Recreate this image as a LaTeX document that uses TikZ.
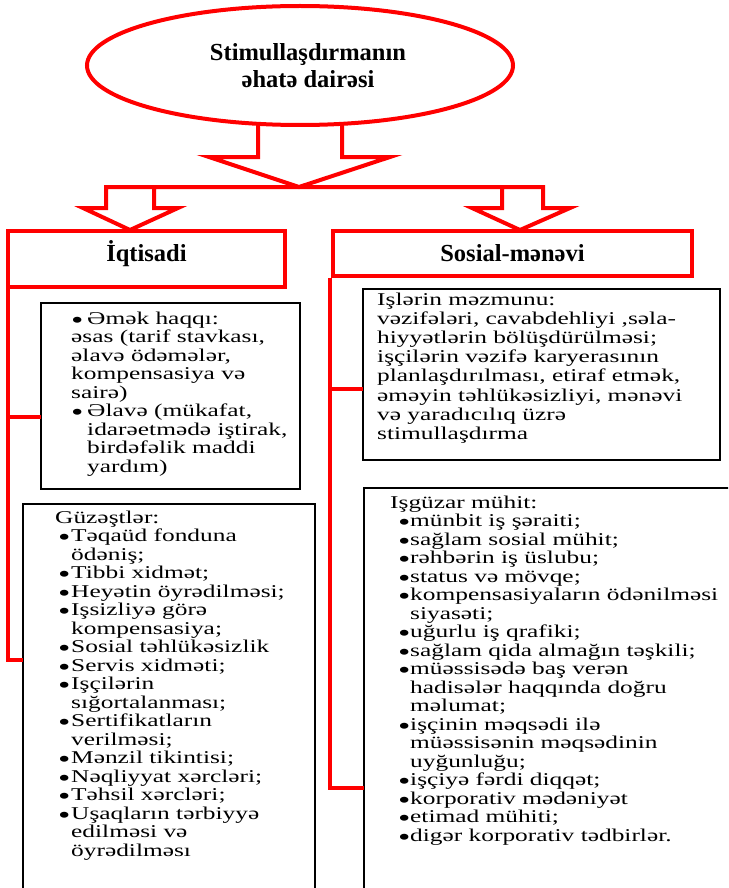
\documentclass[tikz,border=0pt]{standalone}
\usepackage{fontspec}
\setmainfont{Liberation Serif}
\newfontfamily\bodyfont[FakeStretch=1.41]{Liberation Serif}
\usetikzlibrary{shapes.geometric}
\definecolor{redline}{RGB}{255,0,0}
\tikzstyle{red box}=[draw=redline, line width=4pt, fill=white, inner sep=0pt]
\tikzstyle{red link}=[draw=redline, line width=4pt, line join=miter]
\tikzstyle{text box}=[draw=black, line width=1.3pt, inner sep=0pt]
\tikzstyle{title}=[font=\bfseries\fontsize{24.5}{27}\selectfont]
\tikzstyle{body}=[font=\bodyfont\fontsize{18}{18.5}\selectfont, align=left, anchor=north west, inner sep=0pt]
\newcommand{\bul}[1]{\makebox[#1][l]{\smash{\raisebox{-4.3pt}{\fontsize{25}{18.5}\selectfont\textbullet}}}}

\begin{document}
\begin{tikzpicture}[x=1pt,y=-1pt]
    \useasboundingbox (0,0) rectangle (728,888);
    \clip (0,0) rectangle (728,888);

    % Arrows
    \draw[red link] (258,125) -- (258,157) -- (209,157) -- (299,187) -- (390,157) -- (342,157) -- (342,125);
    \draw[red link] (154,187) -- (154,208) -- (178,208) -- (130,230) -- (83,208) -- (106,208) -- (106,187)
        -- (543,187) -- (543,208) -- (570,208) -- (520,230) -- (472,208) -- (502,208) -- (502,187);

    % Scope
    \draw (300,65.5) node[red box, ellipse, minimum width=426pt, minimum height=119pt] (scope) {};
    \draw (308,65.5) node[title, align=center, inner sep=0pt] (scopetext) {Stimullaşdırmanın\\əhatə dairəsi};

    % Headers
    \draw (146.5,259) node[red box, minimum width=277pt, minimum height=56pt, title, text height=12pt, text depth=8pt] (iqt) {İqtisadi};
    \draw (512.5,253.5) node[red box, minimum width=359pt, minimum height=45pt, title, text height=17pt, text depth=2pt] (sos) {Sosial-mənəvi};

    % Boxes
    \draw (170.5,396) node[text box, minimum width=259pt, minimum height=186pt] (wage) {};
    \draw (541.5,374.5) node[text box, minimum width=357pt, minimum height=171pt] (work) {};
    \draw (169,702) node[text box, minimum width=292pt, minimum height=396pt] (perks) {};
    \draw (552,694) node[text box, minimum width=376pt, minimum height=412pt] (env) {};

    % Links
    \coordinate (lspine) at ([xshift=2pt]iqt.south west);
    \coordinate (rspine) at ([xshift=-1pt]sos.south west);
    \coordinate (l1) at (41,417);
    \coordinate (l3) at (23,660);
    \coordinate (r2) at (363,389);
    \coordinate (r4) at (364,788);
    \draw[red link] (lspine) |- (l3);
    \draw[red link] (l1) -- (l1 -| lspine);
    \draw[red link] (rspine) |- (r4);
    \draw[red link] (r2) -- (r2 -| rspine);

    % Texts
    \draw (71,311) node[body] (wagetext) {\strut\bul{16pt}Əmək haqqı:\\
        əsas (tarif stavkası,\\
        əlavə ödəmələr,\\
        kompensasiya və\\
        sairə)\\
        \bul{16pt}Əlavə (mükafat,\\
        \hspace*{16pt}idarəetmədə iştirak,\\
        \hspace*{16pt}birdəfəlik maddi\\
        \hspace*{16pt}yardım)};
    \draw (377,292) node[body, font=\bodyfont\fontsize{18}{19.1}\selectfont] (worktext) {\strut Işlərin məzmunu:\\
        vəzifələri, cavabdehliyi ,səla-\\
        hiyyətlərin bölüşdürülməsi;\\
        işçilərin vəzifə karyerasının\\
        planlaşdırılması, etiraf etmək,\\
        əməyin təhlükəsizliyi, mənəvi\\
        və yaradıcılıq üzrə\\
        stimullaşdırma};
    \draw (55,510) node[body] (perkstext) {\strut Güzəştlər:\\
        \hspace*{3pt}\bul{13pt}Təqaüd fonduna\\
        \hspace*{16pt}ödəniş;\\
        \hspace*{3pt}\bul{13pt}Tibbi xidmət;\\
        \hspace*{3pt}\bul{13pt}Heyətin öyrədilməsi;\\
        \hspace*{3pt}\bul{13pt}Işsizliyə görə\\
        \hspace*{16pt}kompensasiya;\\
        \hspace*{3pt}\bul{13pt}Sosial təhlükəsizlik\\
        \hspace*{3pt}\bul{13pt}Servis xidməti;\\
        \hspace*{3pt}\bul{13pt}Işçilərin\\
        \hspace*{16pt}sığortalanması;\\
        \hspace*{3pt}\bul{13pt}Sertifikatların\\
        \hspace*{16pt}verilməsi;\\
        \hspace*{3pt}\bul{13pt}Mənzil tikintisi;\\
        \hspace*{3pt}\bul{13pt}Nəqliyyat xərcləri;\\
        \hspace*{3pt}\bul{13pt}Təhsil xərcləri;\\
        \hspace*{3pt}\bul{13pt}Uşaqların tərbiyyə\\
        \hspace*{16pt}edilməsi və\\
        \hspace*{16pt}öyrədilməsı};
    \draw (390,495) node[body] (envtext) {\strut Işgüzar mühit:\\
        \hspace*{8pt}\bul{12pt}münbit iş şəraiti;\\
        \hspace*{8pt}\bul{12pt}sağlam sosial mühit;\\
        \hspace*{8pt}\bul{12pt}rəhbərin iş üslubu;\\
        \hspace*{8pt}\bul{12pt}status və mövqe;\\
        \hspace*{8pt}\bul{12pt}kompensasiyaların ödənilməsi\\
        \hspace*{20pt}siyasəti;\\
        \hspace*{8pt}\bul{12pt}uğurlu iş qrafiki;\\
        \hspace*{8pt}\bul{12pt}sağlam qida almağın təşkili;\\
        \hspace*{8pt}\bul{12pt}müəssisədə baş verən\\
        \hspace*{20pt}hadisələr haqqında doğru\\
        \hspace*{20pt}məlumat;\\
        \hspace*{8pt}\bul{12pt}işçinin məqsədi ilə\\
        \hspace*{20pt}müəssisənin məqsədinin\\
        \hspace*{20pt}uyğunluğu;\\
        \hspace*{8pt}\bul{12pt}işçiyə fərdi diqqət;\\
        \hspace*{8pt}\bul{12pt}korporativ mədəniyət\\
        \hspace*{8pt}\bul{12pt}etimad mühiti;\\
        \hspace*{8pt}\bul{12pt}digər korporativ tədbirlər.};
\end{tikzpicture}
\end{document}
